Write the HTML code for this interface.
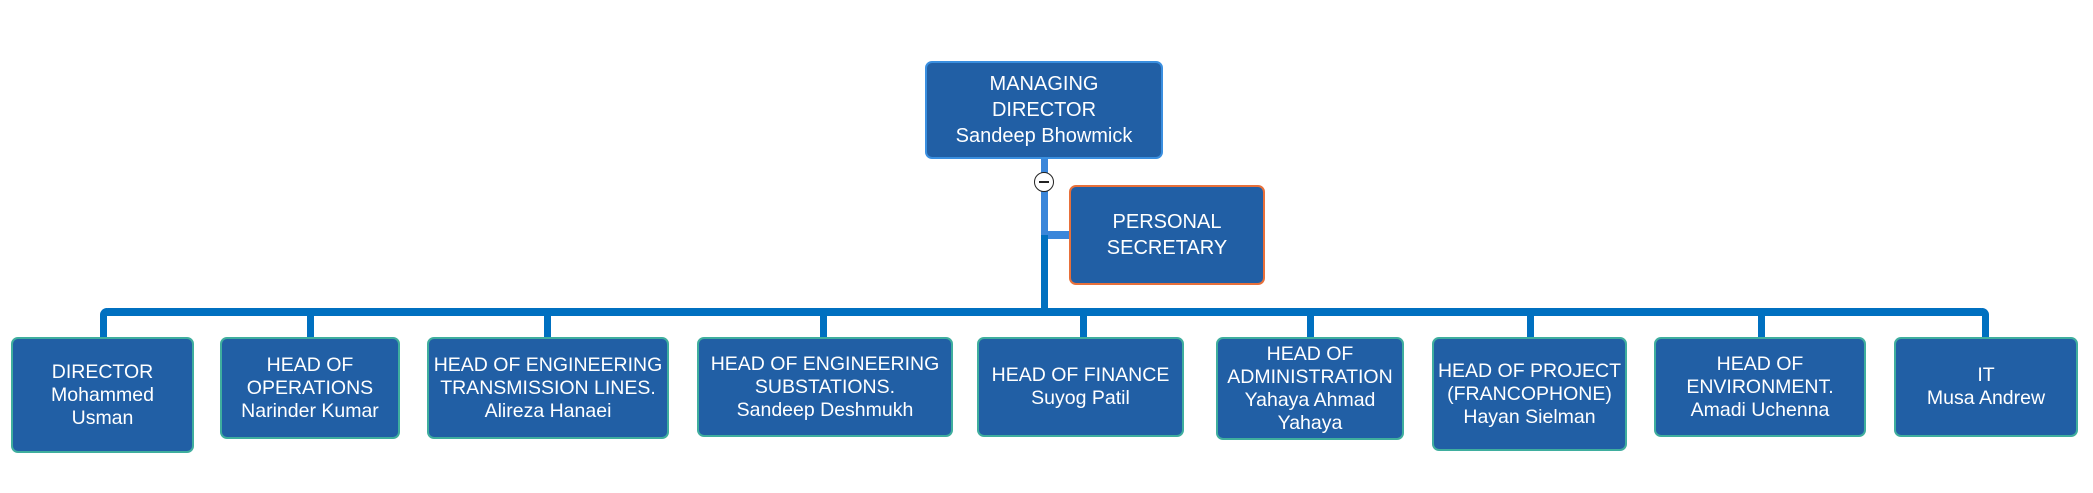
<!DOCTYPE html>
<html><head><meta charset="utf-8"><style>
body{margin:0;width:2093px;height:493px;background:#fff;position:relative;overflow:hidden;font-family:"Liberation Sans","DejaVu Sans",sans-serif}
.b{position:absolute;box-sizing:border-box;background:#215fa5;border:2px solid #3fae9e;border-radius:7px;color:#fff;font-size:19.5px;line-height:23px;display:flex;align-items:center;justify-content:center;text-align:center;white-space:nowrap}
.l{position:absolute;background:#0070c0}
</style></head><body>
<div class="l" style="left:1041px;top:159px;width:7px;height:76px;background:#3a86da"></div>
<div class="l" style="left:1041px;top:235px;width:7px;height:80px"></div>
<div class="l" style="left:1048px;top:231px;width:22px;height:8px;background:#3a86da"></div>
<div class="l" style="left:100px;top:308px;width:1889px;height:8px;border-radius:8px 8px 0 0"></div>
<div class="l" style="left:100px;top:308px;width:7px;height:30px;border-radius:8px 0 0 0"></div>
<div class="l" style="left:1982px;top:308px;width:7px;height:30px;border-radius:0 8px 0 0"></div>
<div class="l" style="left:307px;top:312px;width:7px;height:26px"></div>
<div class="l" style="left:544px;top:312px;width:7px;height:26px"></div>
<div class="l" style="left:820px;top:312px;width:7px;height:26px"></div>
<div class="l" style="left:1080px;top:312px;width:7px;height:26px"></div>
<div class="l" style="left:1307px;top:312px;width:7px;height:26px"></div>
<div class="l" style="left:1527px;top:312px;width:7px;height:26px"></div>
<div class="l" style="left:1758px;top:312px;width:7px;height:26px"></div>
<div style="position:absolute;left:1034px;top:172px;width:18px;height:18px;border:1.5px solid #222;border-radius:50%;background:#fff"><div style="position:absolute;left:4px;top:8px;width:10px;height:2px;background:#222"></div></div>
<div class="b" style="left:925px;top:61px;width:238px;height:98px;border-color:#3a8fe0;font-size:20px;line-height:26px">MANAGING<br>DIRECTOR<br>Sandeep Bhowmick</div>
<div class="b" style="left:1069px;top:185px;width:196px;height:100px;border-color:#e8703a;font-size:20px;line-height:26px">PERSONAL<br>SECRETARY</div>
<div class="b" style="left:11px;top:337px;width:183px;height:116px">DIRECTOR<br>Mohammed<br>Usman</div>
<div class="b" style="left:220px;top:337px;width:180px;height:102px">HEAD OF<br>OPERATIONS<br>Narinder Kumar</div>
<div class="b" style="left:427px;top:337px;width:242px;height:102px">HEAD OF ENGINEERING<br>TRANSMISSION LINES.<br>Alireza Hanaei</div>
<div class="b" style="left:697px;top:337px;width:256px;height:100px">HEAD OF ENGINEERING<br>SUBSTATIONS.<br>Sandeep Deshmukh</div>
<div class="b" style="left:977px;top:337px;width:207px;height:100px">HEAD OF FINANCE<br>Suyog Patil</div>
<div class="b" style="left:1216px;top:337px;width:188px;height:103px">HEAD OF<br>ADMINISTRATION<br>Yahaya Ahmad<br>Yahaya</div>
<div class="b" style="left:1432px;top:337px;width:195px;height:114px">HEAD OF PROJECT<br>(FRANCOPHONE)<br>Hayan Sielman</div>
<div class="b" style="left:1654px;top:337px;width:212px;height:100px">HEAD OF<br>ENVIRONMENT.<br>Amadi Uchenna</div>
<div class="b" style="left:1894px;top:337px;width:184px;height:100px">IT<br>Musa Andrew</div>
</body></html>
